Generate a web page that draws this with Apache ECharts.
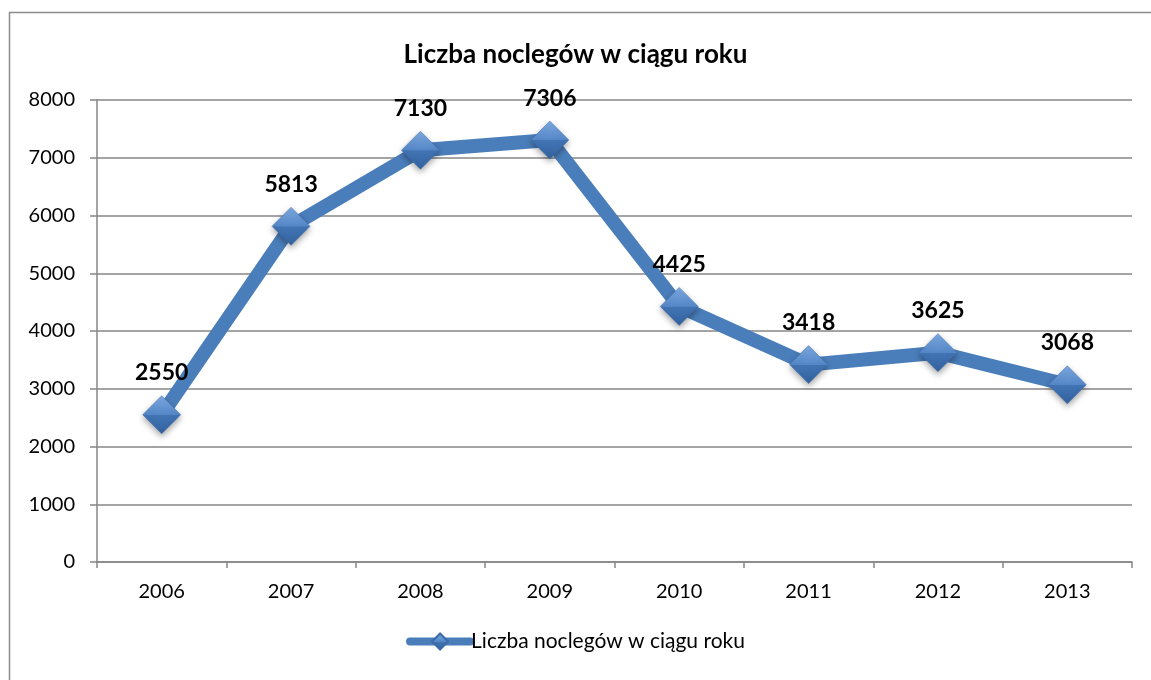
<!DOCTYPE html>
<html>
<head>
<meta charset="utf-8">
<script src="https://cdn.jsdelivr.net/npm/echarts@6/dist/echarts.min.js"></script>
<style>
  html, body { margin: 0; padding: 0; background: #fff; }
  #chart { width: 1151px; height: 680px; }
</style>
</head>
<body>
<div id="chart"></div>
<script>
// Annual overnight stays
const years = ['2006', '2007', '2008', '2009', '2010', '2011', '2012', '2013'];
const stays = [2550, 5813, 7130, 7306, 4425, 3418, 3625, 3068];
const seriesName = 'Liczba noclegów w ciągu roku';
const chartTitle = 'Liczba noclegów w ciągu roku';

const FONT = 'Lato, "Open Sans", sans-serif';
const chart = echarts.init(document.getElementById('chart'));

const diamondFill = new echarts.graphic.LinearGradient(0, 0, 0, 1, [
  { offset: 0, color: '#7eaae2' },
  { offset: 0.5, color: '#5587c8' },
  { offset: 0.51, color: '#4274b4' },
  { offset: 1, color: '#33629f' }
]);

chart.setOption({
  animation: false,
  backgroundColor: '#fff',
  graphic: [{
    type: 'rect',
    shape: { x: 9.5, y: 12.5, width: 1200, height: 700 },
    style: { fill: 'none', stroke: '#8c8c8c', lineWidth: 1.5 },
    silent: true
  }],
  title: {
    text: chartTitle,
    left: 'center',
    top: 37,
    textStyle: { fontFamily: FONT, fontSize: 26, fontWeight: 'bold', color: '#000' }
  },
  grid: { left: 97, right: 19, top: 100, bottom: 118 },
  legend: {
    bottom: 23,
    left: 'center',
    itemWidth: 60,
    itemHeight: 20,
    itemGap: 4,
    data: [seriesName],
    lineStyle: { width: 8 },
    textStyle: { fontFamily: FONT, fontSize: 21, color: '#000', padding: [0, 0, 0, -4] }
  },
  xAxis: {
    type: 'category',
    data: years,
    boundaryGap: true,
    axisLine: { lineStyle: { color: '#868686', width: 1.5 } },
    axisTick: { show: true, length: 6, lineStyle: { color: '#868686', width: 1.5 } },
    axisLabel: { fontFamily: FONT, fontSize: 20, color: '#000', margin: 20 }
  },
  yAxis: {
    type: 'value',
    min: 0,
    max: 8000,
    interval: 1000,
    axisLine: { show: true, lineStyle: { color: '#868686', width: 1.5 } },
    axisTick: { show: true, length: 7, lineStyle: { color: '#868686', width: 1.5 } },
    splitLine: { lineStyle: { color: '#868686', width: 1.5 } },
    axisLabel: { fontFamily: FONT, fontSize: 20, color: '#000', margin: 22, formatter: v => String(v) }
  },
  series: [{
    name: seriesName,
    type: 'line',
    data: stays,
    symbol: 'diamond',
    symbolSize: 38,
    lineStyle: { color: '#4a7ebb', width: 14, cap: 'round', join: 'round' },
    itemStyle: {
      color: diamondFill,
      borderColor: '#3a6aa8',
      borderWidth: 0.5,
      shadowColor: 'rgba(0,0,0,0.35)',
      shadowBlur: 6,
      shadowOffsetY: 3
    },
    label: {
      show: true,
      position: 'top',
      distance: 11,
      fontFamily: FONT,
      fontSize: 23,
      fontWeight: 'bold',
      color: '#000'
    },
    emphasis: { disabled: true }
  }]
});
</script>
</body>
</html>
